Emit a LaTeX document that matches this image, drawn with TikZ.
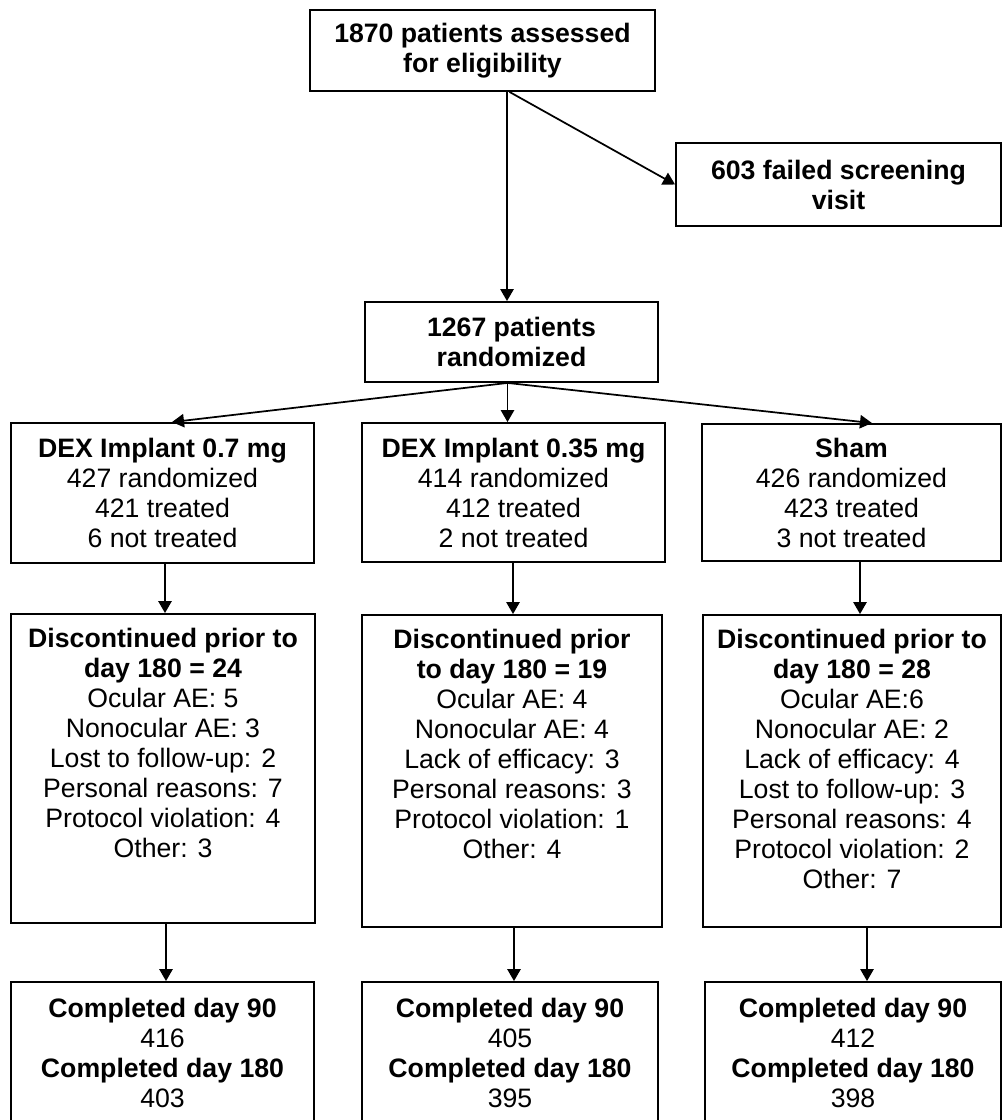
\documentclass[tikz,border=0pt]{standalone}
\usepackage{fontspec}
\setmainfont{Liberation Sans}
\usetikzlibrary{arrows.meta,calc}
\begin{document}
\begin{tikzpicture}[x=0.75pt,y=-0.75pt,
  box/.style={draw, line width=1.4pt, inner sep=0pt, align=center,
    font=\fontsize{20}{22.5}\selectfont},
  sz/.style 2 args={minimum width=#1*0.75pt, minimum height=#2*0.75pt},
  arr/.style={line width=1.3pt, -{Triangle[length=9pt,width=10pt]}}]
\useasboundingbox (0,0) rectangle (1002,1120);

% top boxes
\node[box, sz={345}{81}] (A) at (482.5,50.5) {\textbf{1870 patients assessed}\\ \textbf{for eligibility}};
\node[box, sz={325}{83}] (F) at (838.5,184.5) {\textbf{603 failed screening}\\ \textbf{visit}};
\node[box, sz={293}{80}] (R) at (511.5,342) {\textbf{1267 patients}\\ \textbf{randomized}};

% arm boxes
\node[box, sz={303}{140}] (Lb) at (162.5,493) {\textbf{DEX Implant 0.7 mg}\\ 427 randomized\\ 421 treated\\ 6 not treated};
\node[box, sz={303}{139}] (Mb) at (513.5,492.5) {\textbf{DEX Implant 0.35 mg}\\ 414 randomized\\ 412 treated\\ 2 not treated};
\node[box, sz={299}{137}] (Rb) at (851.5,492.5) {\textbf{Sham}\\ 426 randomized\\ 423 treated\\ 3 not treated};

% discontinued boxes
\node[box] (Ld) at (163,768.5) {\parbox[c][231.75pt][t]{228pt}{\centering\vspace*{11pt}%
  \textbf{Discontinued prior to}\\ \textbf{day 180 = 24}\\ Ocular AE: 5\\ Nonocular AE: 3\\ Lost to follow-up: 2\\ Personal reasons: 7\\ Protocol violation: 4\\ Other: 3}};
\node[box] (Md) at (512,771) {\parbox[c][234pt][t]{225pt}{\centering\vspace*{11pt}%
  \textbf{Discontinued prior}\\ \textbf{to day 180 = 19}\\ Ocular AE: 4\\ Nonocular AE: 4\\ Lack of efficacy: 3\\ Personal reasons: 3\\ Protocol violation: 1\\ Other: 4}};
\node[box] (Rd) at (852,771) {\parbox[c][234pt][t]{223.5pt}{\centering\vspace*{11pt}%
  \textbf{Discontinued prior to}\\ \textbf{day 180 = 28}\\ Ocular AE:6\\ Nonocular AE: 2\\ Lack of efficacy: 4\\ Lost to follow-up: 3\\ Personal reasons: 4\\ Protocol violation: 2\\ Other: 7}};

% completed boxes
\node[box, sz={303}{142}] (Lc) at (162.5,1053) {\textbf{Completed day 90}\\ 416\\ \textbf{Completed day 180}\\ 403};
\node[box, sz={296}{142}] (Mc) at (510,1053) {\textbf{Completed day 90}\\ 405\\ \textbf{Completed day 180}\\ 395};
\node[box, sz={296}{142}] (Rc) at (853,1053) {\textbf{Completed day 90}\\ 412\\ \textbf{Completed day 180}\\ 398};

% connectors
\coordinate (a1) at ($(A.south)+(24.5,0)$);
\draw[arr] (a1) -- (a1 |- R.north);
\coordinate (a2) at ($(A.south)+(27,0)$);
\draw[arr] (a2) -- (F.west);

\coordinate (rs) at ($(R.south)+(-4,0)$);
\draw[arr] (rs) -- ($(Lb.north)+(9.5,0)$);
\draw[arr] (rs) -- (rs |- Mb.north);
\draw[arr] (rs) -- ($(Rb.north)+(20.5,0)$);

\coordinate (l1) at ($(Lb.south)+(2.5,0)$);
\draw[arr] (l1) -- (l1 |- Ld.north);
\coordinate (m1) at ($(Mb.south)+(-0.5,0)$);
\draw[arr] (m1) -- (m1 |- Md.north);
\coordinate (r1) at ($(Rb.south)+(8.5,0)$);
\draw[arr] (r1) -- (r1 |- Rd.north);

\coordinate (l2) at ($(Ld.south)+(3,0)$);
\draw[arr] (l2) -- (l2 |- Lc.north);
\coordinate (m2) at ($(Md.south)+(2,0)$);
\draw[arr] (m2) -- (m2 |- Mc.north);
\coordinate (r2) at ($(Rd.south)+(15,0)$);
\draw[arr] (r2) -- (r2 |- Rc.north);
\end{tikzpicture}
\end{document}
